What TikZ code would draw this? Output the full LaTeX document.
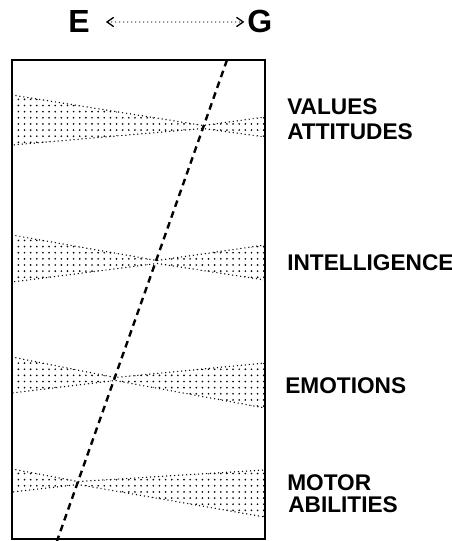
\documentclass[tikz,border=0pt]{standalone}
\usepackage{fontspec}
\setmainfont{Liberation Sans}
\usetikzlibrary{calc,arrows.meta,patterns.meta}

\begin{document}
\begin{tikzpicture}[x=0.75pt,y=-0.75pt,
    band/.style={pattern={Dots[distance=4.6pt,radius=0.7pt]},draw,line width=1.1pt,line cap=round,dash pattern=on 0pt off 3pt},
    trait/.style={anchor=base west,inner sep=0pt,font=\bfseries\fontsize{17}{19}\selectfont},
    pole/.style={anchor=base west,inner sep=0pt,font=\bfseries\fontsize{24}{26}\selectfont}]
        \useasboundingbox (0,0) rectangle (452,541);
        % Define points
        \coordinate (T) at (227,60);
        \coordinate (B) at (57,541);
        % Poles
        \node[pole] (E) at (68,33) {E};
        \node[pole] (G) at (247,33) {G};
        \draw[line width=1pt,line cap=round,dash pattern=on 0pt off 3pt,
          {Straight Barb[length=5pt,width=7pt]}-{Straight Barb[length=5pt,width=7pt]},
          shorten <=12pt,shorten >=2pt] (E.east) -- (G.west);
        % Bands
        \draw[band] (12,95) -- (203,125.5) -- (265,117) -- (265,137) -- (203,128.5) -- (12,145) -- cycle;
        \draw[band] (12,235) -- (157,260.5) -- (265,245) -- (265,280) -- (157,263.5) -- (12,282) -- cycle;
        \draw[band] (12,357) -- (115,377.5) -- (265,363) -- (265,408) -- (115,380.5) -- (12,393) -- cycle;
        \draw[band] (12,469) -- (78,481.5) -- (265,470) -- (265,517) -- (78,484.5) -- (12,492) -- cycle;
        % Frame
        \draw[line width=1.6pt] (12,60) rectangle (265,539);
        \draw[line width=1.8pt,dash pattern=on 5pt off 3.6pt] (T) -- (B);
        % Labels
        \node[trait] (val) at (287,115) {VALUES};
        \node[trait] (att) at (287,140) {ATTITUDES};
        \node[trait] (int) at (287,270) {INTELLIGENCE};
        \node[trait] (emo) at (285,393) {EMOTIONS};
        \node[trait] (mot) at (287,490) {MOTOR};
        \node[trait] (abi) at (288,512) {ABILITIES};
      \end{tikzpicture}
\end{document}
